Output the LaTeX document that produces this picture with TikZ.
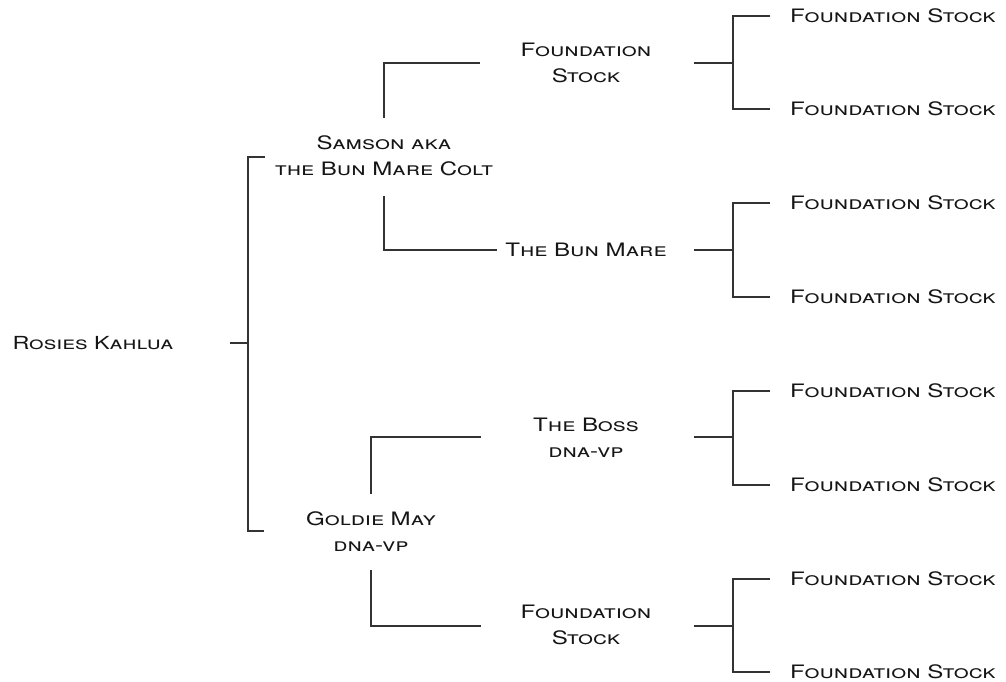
\documentclass[tikz,border=0pt]{standalone}
\usepackage{fontspec}
\setmainfont{TeX Gyre Heros}[FakeStretch=1.3]
\definecolor{ink}{HTML}{151515}
\definecolor{wire}{HTML}{333333}
\begin{document}
\begin{tikzpicture}[x=1pt,y=-1pt,
  lbl/.style={font=\fontsize{18.5}{26}\selectfont\scshape, text=ink, inner sep=0pt, align=center},
  big/.style={lbl, font=\fontsize{18}{26}\selectfont\scshape},
  wirest/.style={draw=wire, line width=1.1pt}]
\useasboundingbox (0,0) rectangle (1006,681);
% generation 0
\node[big] (root) at (93,343) {Rosies Kahlua};
% generation 1
\node[lbl] (samson) at (384,156) {Samson aka\\the Bun Mare Colt};
\node[lbl] (goldie) at (371,532) {Goldie May\\dna-vp};
% generation 2
\node[lbl] (fsA) at (586,63) {Foundation\\Stock};
\node[lbl] (bun) at (586,250) {The Bun Mare};
\node[lbl] (boss) at (586,438) {The Boss\\dna-vp};
\node[lbl] (fsB) at (586,625) {Foundation\\Stock};
% generation 3
\foreach \i/\y in {1/16,2/109,3/203,4/297,5/391,6/485,7/579,8/672}
  \node[lbl, anchor=west] (g\i) at (790,\y) {Foundation Stock};
% junction coordinates
\coordinate (r0) at (230,343);
\coordinate (r1) at (248,343);
\coordinate (rs) at (265,157);
\coordinate (rg) at (264,531);
\coordinate (sT) at (384,118);
\coordinate (sB) at (384,196);
\coordinate (aE) at (480,63);
\coordinate (bE) at (497,250);
\coordinate (gT) at (371,494);
\coordinate (gB) at (371,570);
\coordinate (cE) at (481,437);
\coordinate (dE) at (481,626);
% root bracket
\draw[wirest] (r0) -- (r1);
\draw[wirest] (rs) -| (r1) |- (rg);
% samson
\draw[wirest] (sT) |- (aE);
\draw[wirest] (sB) |- (bE);
% goldie
\draw[wirest] (gT) |- (cE);
\draw[wirest] (gB) |- (dE);
% gen2 brackets
\foreach \n/\a/\b/\y in {fsA/1/2/63, bun/3/4/250, boss/5/6/437, fsB/7/8/626}{
  \draw[wirest] (694,\y) -- (733,\y);
  \draw[wirest] ([xshift=-20pt]g\a.west) -| (733,\y) |- ([xshift=-20pt]g\b.west);
}
\end{tikzpicture}
\end{document}
